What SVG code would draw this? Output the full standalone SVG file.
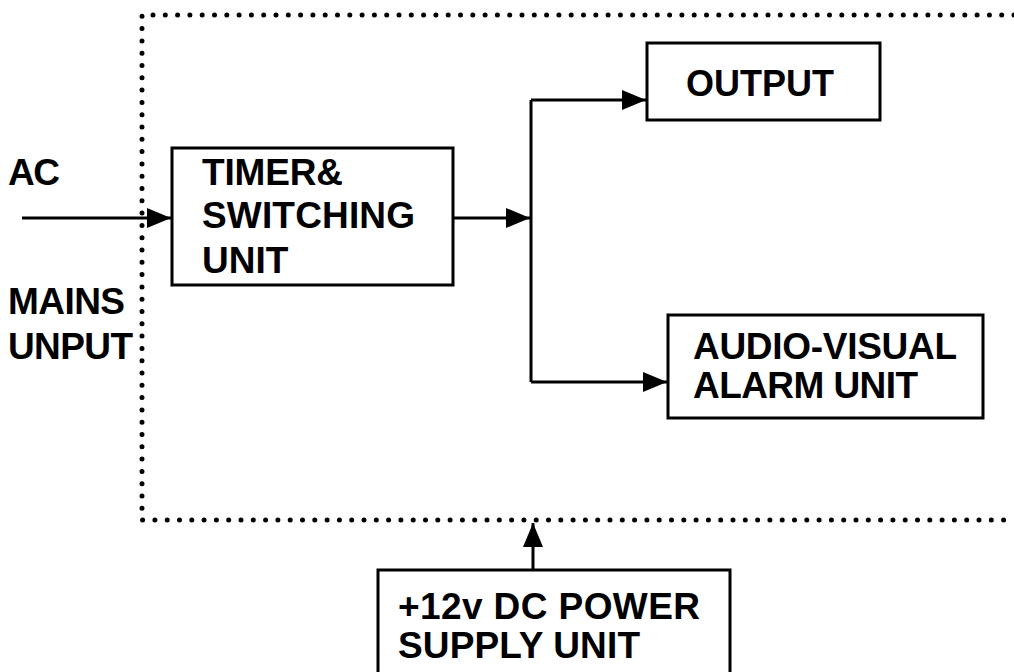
<svg xmlns="http://www.w3.org/2000/svg" width="1014" height="672" viewBox="0 0 1014 672">
<style>
.box{fill:#fff;stroke:#000;stroke-width:3}
.t{font-family:"Liberation Sans",Arial,sans-serif;font-weight:bold;font-size:37px;fill:#000}
.c{fill:none;stroke:#000;stroke-width:3}
.dot{fill:none;stroke:#000;stroke-width:5;stroke-linecap:round;stroke-dasharray:0 12.3}
</style>
<defs>
<marker id="ah" markerWidth="24" markerHeight="20" refX="24" refY="10" orient="auto" markerUnits="userSpaceOnUse">
<path d="M0,0 L24,10 L0,20 Z" fill="#000"/>
</marker>
</defs>
<rect width="1014" height="672" fill="#fff"/>
<g id="boundary">
<path class="dot" d="M1014,15 L142,15 L142,520 L1014,520"/>
</g>
<g id="connectors">
<path class="c" d="M22,218 L171,218" marker-end="url(#ah)"/>
<path class="c" d="M453,218 L530,218" marker-end="url(#ah)"/>
<path class="c" d="M531,100 L531,382"/>
<path class="c" d="M531,100 L646,100" marker-end="url(#ah)"/>
<path class="c" d="M531,382 L667,382" marker-end="url(#ah)"/>
<path class="c" d="M533,570 L533,523" marker-end="url(#ah)"/>
</g>
<g id="labels">
<text class="t" x="8" y="185" textLength="52">AC</text>
<text class="t" x="8" y="314" textLength="117">MAINS</text>
<text class="t" x="8" y="359" textLength="125">UNPUT</text>
</g>
<g id="timer">
<rect class="box" x="172" y="148" width="281" height="137"/>
<text class="t" x="202" y="185" textLength="141">TIMER&amp;</text>
<text class="t" x="202" y="228" textLength="213">SWITCHING</text>
<text class="t" x="202" y="273">UNIT</text>
</g>
<g id="output">
<rect class="box" x="647" y="43" width="233" height="77"/>
<text class="t" x="760" y="96" text-anchor="middle" style="font-size:36px">OUTPUT</text>
</g>
<g id="alarm">
<rect class="box" x="668" y="315" width="315" height="103"/>
<text class="t" x="693" y="359" textLength="264">AUDIO-VISUAL</text>
<text class="t" x="693" y="398" textLength="225">ALARM UNIT</text>
</g>
<g id="power">
<rect class="box" x="378" y="570" width="352" height="120"/>
<text class="t" x="398" y="619" textLength="302">+12v DC POWER</text>
<text class="t" x="398" y="658" textLength="242">SUPPLY UNIT</text>
</g>
</svg>
